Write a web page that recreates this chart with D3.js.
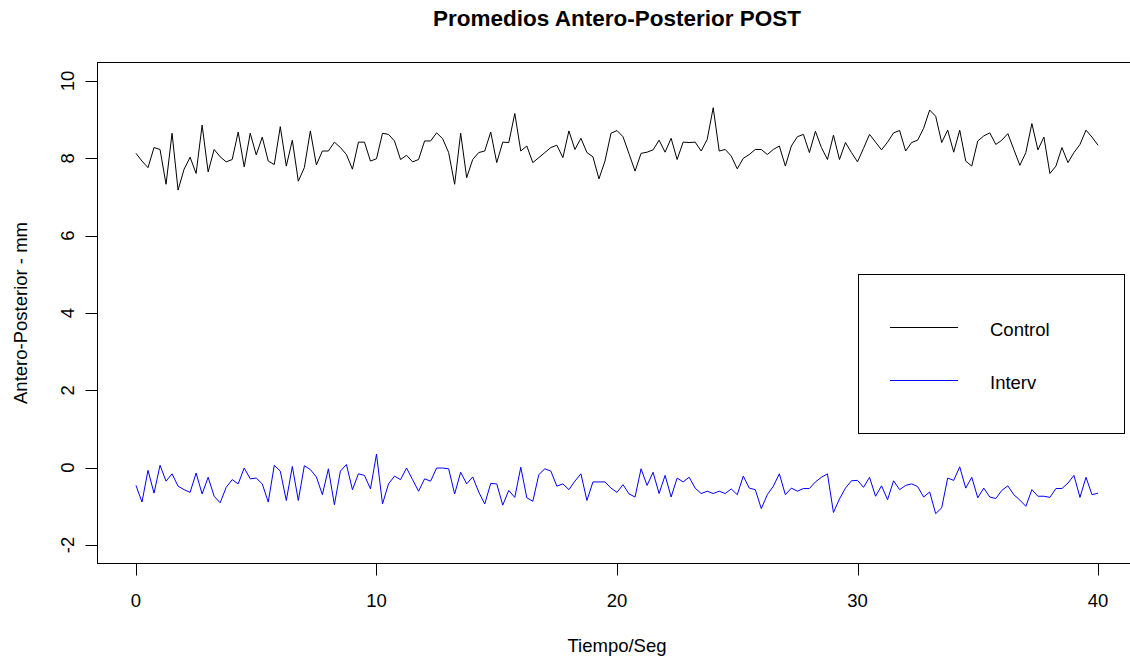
<!DOCTYPE html>
<html>
<head>
<meta charset="utf-8">
<script src="https://cdn.jsdelivr.net/npm/d3@7"></script>
<style>
  body { margin: 0; background: #fff; }
  svg { display: block; font-family: "Liberation Sans", Arial, sans-serif; }
</style>
</head>
<body>
<div id="chart"></div>
<script>
// Sampling step of the series (seconds)
const stepSeg = 0.25;

// Control group, one value every 0.25 s from 0 to 40
const control = [
  8.13, 7.93, 7.76, 8.28, 8.23, 7.33, 8.65, 7.18, 7.72, 8.03,
  7.61, 8.86, 7.65, 8.23, 8.04, 7.91, 7.97, 8.68, 7.78, 8.65,
  8.09, 8.55, 7.93, 7.84, 8.82, 7.80, 8.47, 7.41, 7.76, 8.71,
  7.83, 8.19, 8.19, 8.42, 8.28, 8.10, 7.72, 8.42, 8.42, 7.93,
  7.99, 8.65, 8.62, 8.45, 7.97, 8.08, 7.91, 7.97, 8.45, 8.45,
  8.66, 8.51, 8.15, 7.33, 8.65, 7.50, 7.97, 8.15, 8.19, 8.68,
  7.89, 8.42, 8.41, 9.16, 8.19, 8.32, 7.89, 8.02, 8.15, 8.28,
  8.34, 8.02, 8.71, 8.23, 8.52, 8.15, 8.04, 7.47, 7.93, 8.65,
  8.72, 8.56, 8.12, 7.67, 8.13, 8.16, 8.22, 8.47, 8.16, 8.52,
  7.97, 8.42, 8.41, 8.42, 8.19, 8.49, 9.31, 8.19, 8.23, 8.06,
  7.73, 8.00, 8.10, 8.23, 8.23, 8.10, 8.23, 8.32, 7.80, 8.32,
  8.56, 8.62, 8.15, 8.70, 8.28, 7.97, 8.60, 7.97, 8.41, 8.15,
  7.91, 8.26, 8.62, 8.42, 8.22, 8.42, 8.66, 8.72, 8.19, 8.41,
  8.47, 8.78, 9.25, 9.09, 8.41, 8.73, 8.16, 8.73, 7.93, 7.80,
  8.45, 8.58, 8.66, 8.36, 8.47, 8.64, 8.23, 7.82, 8.15, 8.90,
  8.22, 8.55, 7.61, 7.80, 8.28, 7.89, 8.15, 8.36, 8.73, 8.55,
  8.34
];

// Intervention group
const interv = [
  -0.46, -0.89, -0.07, -0.66, 0.06, -0.35, -0.16, -0.48, -0.57, -0.64,
  -0.14, -0.68, -0.25, -0.74, -0.91, -0.51, -0.31, -0.42, -0.01, -0.29,
  -0.27, -0.42, -0.89, 0.06, -0.09, -0.85, 0.03, -0.85, 0.05, -0.05,
  -0.24, -0.70, -0.03, -0.96, -0.09, 0.08, -0.57, -0.16, -0.20, -0.55,
  0.35, -0.94, -0.42, -0.22, -0.31, -0.01, -0.31, -0.61, -0.29, -0.35,
  -0.01, -0.01, -0.03, -0.68, -0.12, -0.42, -0.24, -0.63, -0.94, -0.41,
  -0.42, -0.97, -0.59, -0.77, 0.01, -0.78, -0.87, -0.18, -0.03, -0.09,
  -0.48, -0.42, -0.57, -0.35, -0.16, -0.85, -0.37, -0.37, -0.37, -0.53,
  -0.64, -0.44, -0.68, -0.76, -0.03, -0.46, -0.12, -0.67, -0.20, -0.76,
  -0.27, -0.37, -0.25, -0.53, -0.67, -0.61, -0.67, -0.61, -0.67, -0.55,
  -0.70, -0.22, -0.53, -0.57, -1.06, -0.70, -0.48, -0.16, -0.70, -0.53,
  -0.61, -0.54, -0.54, -0.37, -0.25, -0.16, -1.16, -0.81, -0.53, -0.34,
  -0.33, -0.51, -0.25, -0.74, -0.47, -0.83, -0.34, -0.57, -0.46, -0.42,
  -0.49, -0.76, -0.63, -1.19, -1.04, -0.27, -0.33, 0.02, -0.53, -0.25,
  -0.78, -0.53, -0.76, -0.80, -0.59, -0.47, -0.70, -0.84, -1.00, -0.57,
  -0.74, -0.74, -0.77, -0.54, -0.54, -0.40, -0.20, -0.77, -0.25, -0.70,
  -0.66
];

const xTicks = [0, 10, 20, 30, 40];
const yTicks = [-2, 0, 2, 4, 6, 8, 10];
const seriesNames = ["Control", "Interv"];
const seriesColors = ["#000000", "#0000ff"];

const width = 1130, height = 657;
const labelSize = "18.5px";

const svg = d3.select("#chart").append("svg")
    .attr("width", width)
    .attr("height", height);

// R style: 4% padding around the axis limits
const x = d3.scaleLinear().domain([-1.6, 41.6]).range([97.5, 1136.5]);
const y = d3.scaleLinear().domain([-2.48, 10.48]).range([563.5, 62.5]);

// Plot box
svg.append("rect")
    .attr("x", x(-1.6)).attr("y", y(10.48))
    .attr("width", x(41.6) - x(-1.6)).attr("height", y(-2.48) - y(10.48))
    .attr("fill", "none").attr("stroke", "#000").attr("stroke-width", 1);

// X axis (ticks only, box draws the line)
const xAxis = svg.append("g").attr("transform", `translate(0,${y(-2.48)})`);
xAxis.selectAll("line").data(xTicks).enter().append("line")
    .attr("x1", d => Math.round(x(d)) + 0.5).attr("x2", d => Math.round(x(d)) + 0.5)
    .attr("y1", 0).attr("y2", 12)
    .attr("stroke", "#000");
xAxis.selectAll("text").data(xTicks).enter().append("text")
    .attr("x", d => x(d)).attr("y", 43)
    .attr("text-anchor", "middle")
    .style("font-size", labelSize)
    .text(d => d);

// Y axis
const yAxis = svg.append("g").attr("transform", `translate(${x(-1.6)},0)`);
yAxis.selectAll("line").data(yTicks).enter().append("line")
    .attr("x1", -12).attr("x2", 0)
    .attr("y1", d => Math.round(y(d)) + 0.5).attr("y2", d => Math.round(y(d)) + 0.5)
    .attr("stroke", "#000");
yAxis.selectAll("text").data(yTicks).enter().append("text")
    .attr("transform", d => `translate(-24,${y(d)}) rotate(-90)`)
    .attr("text-anchor", "middle")
    .style("font-size", labelSize)
    .text(d => d);

// Lines
const line = d3.line()
    .x((d, i) => x(i * stepSeg))
    .y(d => y(d));

[control, interv].forEach((s, k) => {
    svg.append("path")
        .datum(s)
        .attr("d", line)
        .attr("fill", "none")
        .attr("stroke", seriesColors[k])
        .attr("stroke-width", 1);
});

// Title and axis labels
svg.append("text")
    .attr("x", 617).attr("y", 26)
    .attr("text-anchor", "middle")
    .style("font-size", "22.5px").style("font-weight", "bold")
    .text("Promedios Antero-Posterior POST");

svg.append("text")
    .attr("x", 617).attr("y", 652)
    .attr("text-anchor", "middle")
    .style("font-size", labelSize)
    .text("Tiempo/Seg");

svg.append("text")
    .attr("transform", `translate(27,${y(4)}) rotate(-90)`)
    .attr("text-anchor", "middle")
    .style("font-size", labelSize)
    .text("Antero-Posterior - mm");

// Legend
const legend = svg.append("g");
legend.append("rect")
    .attr("x", 858.5).attr("y", 274.5).attr("width", 266).attr("height", 159)
    .attr("fill", "#fff").attr("stroke", "#000");
seriesNames.forEach((name, i) => {
    const ly = 327.5 + i * 53;
    legend.append("line")
        .attr("x1", 890).attr("x2", 958).attr("y1", ly).attr("y2", ly)
        .attr("stroke", seriesColors[i]);
    legend.append("text")
        .attr("x", 990).attr("y", ly + 8)
        .style("font-size", labelSize)
        .text(name);
});
</script>
</body>
</html>
